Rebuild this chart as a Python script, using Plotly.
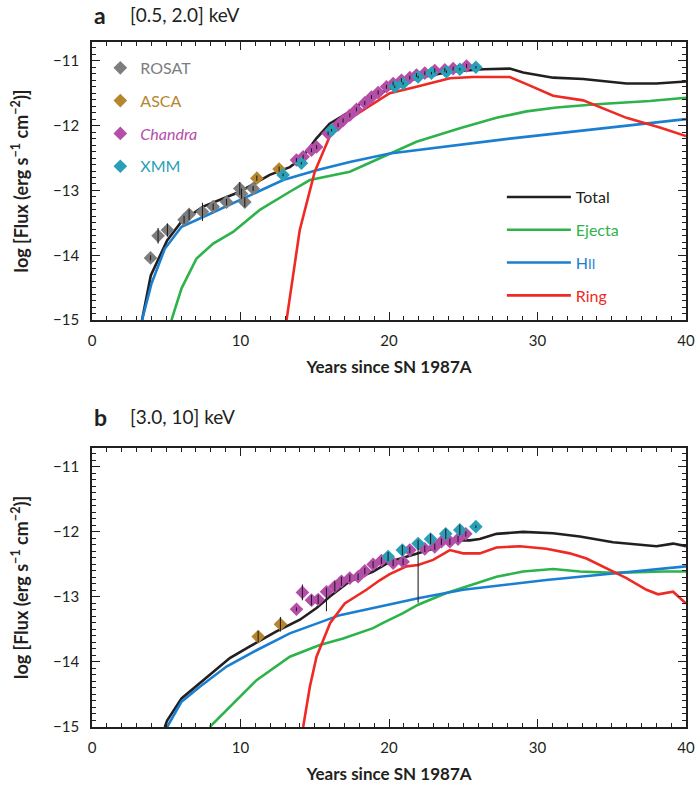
import plotly.graph_objects as go

# ---------------- Panel a: [0.5, 2.0] keV ----------------
a_total_x = [3.37, 3.96, 5.06, 6.03, 7.48, 9.95, 11.97, 13.32, 14.1, 15.1, 16.0, 17.3, 18.26, 20.05, 21.85, 24.1, 26.34, 28.13, 29.03, 31.05, 33.07, 35.99, 38.0, 40.0]
a_total_y = [-15.0, -14.31, -13.77, -13.48, -13.25, -13.02, -12.76, -12.64, -12.51, -12.2, -11.97, -11.79, -11.63, -11.43, -11.27, -11.17, -11.13, -11.12, -11.18, -11.26, -11.28, -11.35, -11.35, -11.32]

a_ejecta_x = [5.35, 6.03, 7.04, 8.16, 9.5, 11.3, 13.32, 14.67, 17.36, 20.05, 21.85, 24.77, 27.24, 29.26, 31.28, 33.97, 37.56, 40.0]
a_ejecta_y = [-15.0, -14.51, -14.05, -13.82, -13.64, -13.3, -13.02, -12.84, -12.71, -12.43, -12.25, -12.04, -11.88, -11.78, -11.72, -11.67, -11.62, -11.57]

a_hii_x = [3.37, 4.0, 4.9, 6.03, 7.48, 9.95, 12.87, 15.12, 17.36, 20.05, 28.13, 40.0]
a_hii_y = [-15.0, -14.44, -13.9, -13.56, -13.41, -13.15, -12.84, -12.69, -12.56, -12.43, -12.2, -11.9]

a_ring_x = [13.1, 13.99, 15.0, 16.0, 17.3, 18.26, 20.05, 21.85, 24.1, 25.66, 28.13, 29.26, 31.05, 33.07, 34.42, 35.99, 38.24, 40.0]
a_ring_y = [-15.0, -13.61, -12.71, -12.17, -11.9, -11.76, -11.5, -11.4, -11.27, -11.25, -11.25, -11.36, -11.54, -11.61, -11.73, -11.88, -12.03, -12.16]

a_rosat_x = [3.94, 4.45, 5.08, 6.2, 6.54, 7.44, 8.16, 9.06, 9.95, 10.07, 10.29, 10.85]
a_rosat_y = [-14.04, -13.7, -13.61, -13.45, -13.37, -13.33, -13.25, -13.18, -12.97, -13.05, -13.18, -12.97]
a_rosat_e = [0.04, 0.12, 0.1, 0.06, 0.08, 0.14, 0.05, 0.05, 0.1, 0.08, 0.08, 0.04]

a_asca_x = [11.1, 12.6]
a_asca_y = [-12.81, -12.67]
a_asca_e = [0.04, 0.04]

a_chandra_x = [13.77, 14.22, 14.78, 15.12, 15.9, 16.57, 16.91, 17.36, 17.81, 18.37, 18.82, 19.27, 19.83, 20.28, 20.84, 21.4, 21.85, 22.41, 23.08, 23.76, 24.32, 25.22]
a_chandra_y = [-12.53, -12.48, -12.38, -12.33, -12.12, -11.99, -11.92, -11.84, -11.75, -11.65, -11.56, -11.49, -11.4, -11.35, -11.3, -11.26, -11.22, -11.19, -11.15, -11.14, -11.12, -11.08]
a_chandra_e = [0.03] * 22

a_xmm_x = [12.87, 14.1, 16.13, 20.39, 20.95, 21.96, 22.86, 23.87, 24.77, 25.85]
a_xmm_y = [-12.76, -12.58, -12.07, -11.4, -11.35, -11.25, -11.19, -11.17, -11.13, -11.1]
a_xmm_e = [0.02] * 10

# ---------------- Panel b: [3.0, 10] keV ----------------
b_total_x = [4.9, 5.06, 6.03, 7.26, 8.38, 9.28, 10.63, 12.42, 14.0, 15.12, 16.04, 17.36, 18.93, 20.05, 21.96, 22.97, 24.1, 25.44, 26.11, 27.24, 29.03, 31.05, 32.85, 35.09, 38.01, 39.13, 40.0]
b_total_y = [-15.0, -14.9, -14.56, -14.33, -14.12, -13.94, -13.76, -13.53, -13.35, -13.17, -12.99, -12.76, -12.61, -12.46, -12.33, -12.26, -12.13, -12.13, -12.11, -12.03, -12.0, -12.02, -12.07, -12.16, -12.22, -12.18, -12.22]

b_ejecta_x = [7.93, 9.28, 11.08, 13.32, 15.34, 16.91, 18.93, 19.6, 20.95, 21.96, 23.87, 25.22, 27.24, 29.03, 31.05, 32.85, 35.09, 38.46, 40.0]
b_ejecta_y = [-15.0, -14.69, -14.28, -13.92, -13.74, -13.64, -13.48, -13.4, -13.25, -13.12, -12.94, -12.84, -12.69, -12.61, -12.57, -12.61, -12.63, -12.61, -12.61]

b_hii_x = [5.06, 6.03, 7.26, 9.06, 11.08, 13.32, 16.69, 19.6, 21.96, 24.99, 30.6, 35.09, 40.0]
b_hii_y = [-15.0, -14.61, -14.38, -14.07, -13.82, -13.56, -13.28, -13.14, -13.02, -12.89, -12.74, -12.64, -12.53]

b_ring_x = [14.22, 14.67, 15.12, 16.04, 17.02, 18.48, 19.4, 20.05, 21.18, 21.96, 22.97, 24.1, 24.99, 26.11, 27.24, 28.81, 30.6, 32.17, 33.3, 35.99, 37.34, 38.12, 39.13, 40.0]
b_ring_y = [-15.0, -14.38, -13.92, -13.4, -13.1, -12.89, -12.74, -12.65, -12.53, -12.51, -12.43, -12.28, -12.33, -12.33, -12.24, -12.22, -12.26, -12.33, -12.41, -12.71, -12.89, -12.96, -12.92, -13.1]

b_asca_x = [11.19, 12.69]
b_asca_y = [-13.61, -13.42]
b_asca_e = [0.09, 0.11]

b_chandra_x = [13.77, 14.17, 14.78, 15.23, 15.79, 16.35, 16.8, 17.36, 17.92, 18.37, 18.93, 19.49, 20.28, 20.95, 21.4, 22.41, 23.08, 23.53, 24.1, 24.65, 25.17]
b_chandra_y = [-13.19, -12.93, -13.05, -13.04, -12.92, -12.84, -12.76, -12.71, -12.69, -12.6, -12.5, -12.44, -12.48, -12.46, -12.28, -12.26, -12.23, -12.15, -12.15, -12.11, -12.03]
b_chandra_ep = [0.03, 0.12, 0.08, 0.07, 0.06, 0.08, 0.07, 0.06, 0.05, 0.05, 0.05, 0.05, 0.05, 0.05, 0.05, 0.05, 0.05, 0.05, 0.05, 0.05, 0.04]
b_chandra_em = [0.03, 0.12, 0.08, 0.07, 0.3, 0.08, 0.07, 0.06, 0.05, 0.05, 0.05, 0.05, 0.05, 0.05, 0.05, 0.05, 0.05, 0.05, 0.05, 0.05, 0.04]

b_xmm_x = [19.94, 20.9, 21.96, 22.8, 23.82, 24.77, 25.85]
b_xmm_y = [-12.38, -12.28, -12.18, -12.11, -12.03, -11.97, -11.92]
b_xmm_ep = [0.07, 0.08, 0.06, 0.08, 0.08, 0.08, 0.02]
b_xmm_em = [0.07, 0.08, 0.91, 0.08, 0.08, 0.08, 0.02]

x_ticks = [0, 10, 20, 30, 40]
y_ticks = [-15, -14, -13, -12, -11]

# ---------------- styles ----------------
C_TOTAL = "#231f20"
C_EJECTA = "#2db34a"
C_HII = "#1a7fd0"
C_RING = "#ee2a24"
C_ROSAT = "#7d7d7d"
C_ASCA = "#b5862d"
C_CHANDRA = "#b44ea8"
C_XMM = "#2aa0b8"
FONT = "Lato"
TXT = "#231f20"

fig = go.Figure()

def add_line(x, y, color, name, yaxis, xaxis, show):
    fig.add_trace(go.Scatter(
        x=x, y=y, mode="lines", line=dict(color=color, width=2.6),
        name=name, xaxis=xaxis, yaxis=yaxis, showlegend=show,
        legend="legend2", legendgroup=xaxis + str(len(fig.data))))

def add_pts(x, y, ep, em, color, name, yaxis, xaxis, show):
    fig.add_trace(go.Scatter(
        x=x, y=y, mode="markers",
        marker=dict(symbol="diamond", size=10.5, color=color, line=dict(width=0)),
        name=name, xaxis=xaxis, yaxis=yaxis, showlegend=show,
        legend="legend", legendgroup=xaxis + str(len(fig.data))))

def add_err(x, y, ep, em, yaxis, xaxis):
    # error bars drawn on top of the diamonds, as in the original figure
    fig.add_trace(go.Scatter(
        x=x, y=y, mode="markers", marker=dict(size=1, opacity=0),
        error_y=dict(type="data", array=ep, arrayminus=em, symmetric=False,
                     color="#231f20", thickness=1.1, width=0),
        xaxis=xaxis, yaxis=yaxis, showlegend=False, hoverinfo="skip"))

def label(txt, color):
    return "<span style='color:%s'>%s</span>" % (color, txt)

# panel a
add_line(a_total_x, a_total_y, C_TOTAL, label("Total", C_TOTAL), "y", "x", True)
add_line(a_ejecta_x, a_ejecta_y, C_EJECTA, label("Ejecta", C_EJECTA), "y", "x", True)
add_line(a_hii_x, a_hii_y, C_HII, label("H<span style='font-size:13px'>II</span>", C_HII), "y", "x", True)
add_line(a_ring_x, a_ring_y, C_RING, label("Ring", C_RING), "y", "x", True)
add_pts(a_rosat_x, a_rosat_y, a_rosat_e, a_rosat_e, C_ROSAT, label("ROSAT", C_ROSAT), "y", "x", True)
add_pts(a_asca_x, a_asca_y, a_asca_e, a_asca_e, C_ASCA, label("ASCA", C_ASCA), "y", "x", True)
add_pts(a_chandra_x, a_chandra_y, a_chandra_e, a_chandra_e, C_CHANDRA, label("<i>Chandra</i>", C_CHANDRA), "y", "x", True)
add_pts(a_xmm_x, a_xmm_y, a_xmm_e, a_xmm_e, C_XMM, label("XMM", C_XMM), "y", "x", True)
add_err(a_rosat_x, a_rosat_y, a_rosat_e, a_rosat_e, "y", "x")
add_err(a_asca_x, a_asca_y, a_asca_e, a_asca_e, "y", "x")
add_err(a_chandra_x, a_chandra_y, a_chandra_e, a_chandra_e, "y", "x")
add_err(a_xmm_x, a_xmm_y, a_xmm_e, a_xmm_e, "y", "x")

# panel b
add_line(b_total_x, b_total_y, C_TOTAL, "Total", "y2", "x2", False)
add_line(b_ejecta_x, b_ejecta_y, C_EJECTA, "Ejecta", "y2", "x2", False)
add_line(b_hii_x, b_hii_y, C_HII, "HII", "y2", "x2", False)
add_line(b_ring_x, b_ring_y, C_RING, "Ring", "y2", "x2", False)
add_pts(b_asca_x, b_asca_y, b_asca_e, b_asca_e, C_ASCA, "ASCA", "y2", "x2", False)
add_pts(b_chandra_x, b_chandra_y, b_chandra_ep, b_chandra_em, C_CHANDRA, "Chandra", "y2", "x2", False)
add_pts(b_xmm_x, b_xmm_y, b_xmm_ep, b_xmm_em, C_XMM, "XMM", "y2", "x2", False)
add_err(b_asca_x, b_asca_y, b_asca_e, b_asca_e, "y2", "x2")
add_err(b_chandra_x, b_chandra_y, b_chandra_ep, b_chandra_em, "y2", "x2")
add_err(b_xmm_x, b_xmm_y, b_xmm_ep, b_xmm_em, "y2", "x2")

def xaxis_cfg(anchor):
    return dict(
        range=[0, 40], tickvals=x_ticks, ticks="inside", ticklen=8, tickwidth=1.2,
        tickcolor="#231f20", showline=True, linecolor="#231f20", linewidth=1.6,
        mirror="allticks", showgrid=False, zeroline=False, anchor=anchor, automargin=False,
        tickfont=dict(family=FONT, size=15, color=TXT), ticklabelstandoff=6,
        minor=dict(dtick=1, ticks="inside", ticklen=4, tickcolor="#231f20", tickwidth=1, showgrid=False),
        title=dict(text="Years since SN 1987A", font=dict(family=FONT, size=17, color=TXT, weight="bold"), standoff=13),
    )

def yaxis_cfg(domain, anchor):
    return dict(
        domain=domain, range=[-15, -10.71], tickvals=y_ticks, ticks="inside", ticklen=8, tickwidth=1.2,
        tickcolor="#231f20", showline=True, linecolor="#231f20", linewidth=1.6,
        mirror="allticks", showgrid=False, zeroline=False, anchor=anchor, automargin=False,
        tickfont=dict(family=FONT, size=15, color=TXT), ticklabelstandoff=8,
        minor=dict(dtick=0.1, ticks="inside", ticklen=4, tickcolor="#231f20", tickwidth=1, showgrid=False),
        title=dict(text="log [Flux (erg s<sup>−1</sup> cm<sup>−2</sup>)]",
                   font=dict(family=FONT, size=18, color=TXT, weight="bold"), standoff=20),
    )

fig.update_layout(
    width=699, height=785,
    margin=dict(l=92, r=13, t=42, b=58, autoexpand=False),
    paper_bgcolor="white", plot_bgcolor="white",
    xaxis=xaxis_cfg("y"),
    yaxis=yaxis_cfg([0.594, 1.0], "x"),
    xaxis2=xaxis_cfg("y2"),
    yaxis2=yaxis_cfg([0.0, 0.4073], "x2"),
    legend=dict(x=0.014, y=0.987, xanchor="left", yanchor="top", bgcolor="rgba(0,0,0,0)",
                font=dict(family=FONT, size=16), tracegroupgap=9, itemwidth=30,
                traceorder="grouped"),
    legend2=dict(x=0.69, y=0.7985, xanchor="left", yanchor="top", bgcolor="rgba(0,0,0,0)",
                 font=dict(family=FONT, size=16), tracegroupgap=9, itemwidth=64,
                 traceorder="grouped"),
    annotations=[
        dict(text="<b>a</b>", x=0.0, y=1.0401, xref="paper", yref="paper", xanchor="left", yanchor="middle",
             showarrow=False, font=dict(family=FONT, size=23, color=TXT)),
        dict(text="[0.5, 2.0] keV", x=0.06, y=1.0401, xref="paper", yref="paper", xanchor="left", yanchor="middle",
             showarrow=False, font=dict(family=FONT, size=19, color=TXT)),
        dict(text="<b>b</b>", x=0.0, y=0.4526, xref="paper", yref="paper", xanchor="left", yanchor="middle",
             showarrow=False, font=dict(family=FONT, size=23, color=TXT)),
        dict(text="[3.0, 10] keV", x=0.06, y=0.4526, xref="paper", yref="paper", xanchor="left", yanchor="middle",
             showarrow=False, font=dict(family=FONT, size=19, color=TXT)),
    ],
)

fig.write_html("out.html")
